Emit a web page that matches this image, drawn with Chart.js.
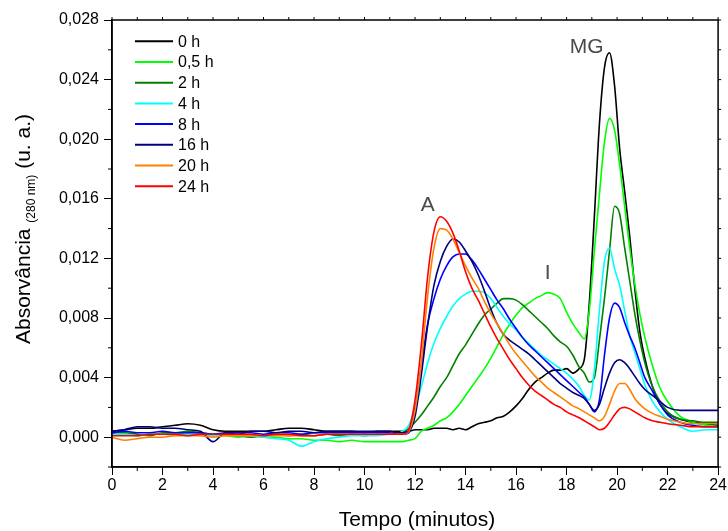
<!DOCTYPE html>
<html><head><meta charset="utf-8">
<script src="https://cdn.jsdelivr.net/npm/chart.js@4.4.0/dist/chart.umd.min.js"></script>
<style>html,body{margin:0;padding:0;background:#fff;}#wrap{width:728px;height:531px;}</style>
</head><body><div id="wrap"><canvas id="c" width="728" height="531"></canvas></div>
<script>
const times = [0,0.5,1,1.5,2,2.5,3,3.5,4,4.5,5,5.5,6,6.5,7,7.5,8,8.5,9,9.5,10,10.5,11,
 11.25,11.5,11.75,12,12.25,12.5,12.75,13,13.25,13.5,13.75,14,14.25,14.5,14.75,15,15.25,15.5,15.75,16,16.25,16.5,16.75,17,17.25,17.5,17.75,18,18.25,18.5,
 18.7,18.9,19.1,19.3,19.5,19.7,19.9,20.1,20.3,20.5,20.7,20.9,21.1,
 21.4,21.7,22,22.5,23,23.5,24];

const seriesLabels = ['0 h','0,5 h','2 h','4 h','8 h','16 h','20 h','24 h'];

const s0h = [0.0004,0.0005,0.0006,0.0006,0.0007,0.0008,0.0009,0.0008,0.0005,0.0004,0.0004,0.0004,0.0004,0.0005,0.0006,0.0006,0.0005,0.0004,0.0004,0.0004,0.0003,0.0004,0.0004,
 0.0004,0.0004,0.0004,0.0005,0.0005,0.0005,0.0006,0.0006,0.0006,0.0005, 0.0006,0.0005,0.0007,0.0009,0.0010,0.0011,0.0013,0.0014,0.0017,0.0021, 0.0026,0.0032,0.0037,0.0040,0.0043,0.0045,0.0045,0.0046,0.0043,0.0046,
 0.0052,0.0090,0.0148,0.0210,0.0248,0.0258,0.0236,0.0194,0.0165,0.0135,0.0100,0.0071,0.0053,
 0.0034,0.0022,0.0016,0.0012,0.0010,0.0009,0.0008];
const s05h = [0.0002,0.0002,0.0001,0.0002,0.0002,0.0003,0.0002,0.0002,0.0001,0.0001,0.0000,0.0001,0.0000,0.0000,-0.0001,-0.0001,-0.0002,-0.0002,-0.0003,-0.0002,-0.0003,-0.0003,-0.0003,
 -0.0003,-0.0003,-0.0002,-0.0001,0.0004,0.0006,0.0008,0.0011,0.0013,0.0017, 0.0022,0.0028,0.0034,0.0040,0.0046,0.0053,0.0061,0.0069,0.0076,0.0082, 0.0087,0.0090,0.0093,0.0095,0.0097,0.0096,0.0093,0.0084,0.0076,0.0070,
 0.0066,0.0085,0.0125,0.0163,0.0198,0.0214,0.0206,0.0183,0.0155,0.0127,0.0103,0.0083,0.0067,
 0.0048,0.0033,0.0024,0.0014,0.0010,0.0008,0.0007];
const s2h = [0.0003,0.0003,0.0002,0.0001,0.0003,0.0003,0.0004,0.0003,0.0002,0.0002,0.0001,0.0000,0.0001,0.0002,0.0001,0.0002,0.0001,0.0002,0.0001,0.0002,0.0001,0.0002,0.0002,
 0.0002,0.0003,0.0006,0.0010,0.0015,0.0021,0.0027,0.0034,0.0040,0.0048, 0.0056,0.0062,0.0069,0.0076,0.0082,0.0086,0.0090,0.0093,0.0093,0.0092, 0.0089,0.0085,0.0081,0.0077,0.0073,0.0068,0.0064,0.0061,0.0055,0.0047,
 0.0043,0.0037,0.0040,0.0065,0.0093,0.0125,0.0155,0.0150,0.0127,0.0105,0.0083,0.0065,0.0050,
 0.0034,0.0024,0.0017,0.0012,0.0011,0.0010,0.0010];
const s4h = [0.0002,0.0002,0.0001,0.0002,0.0002,0.0001,0.0002,0.0001,0.0001,0.0002,0.0001,0.0001,0.0000,-0.0001,-0.0002,-0.0006,-0.0003,-0.0001,0.0000,0.0001,0.0001,0.0001,0.0002,
 0.0002,0.0004,0.0008,0.0020,0.0034,0.0050,0.0063,0.0073,0.0081,0.0088, 0.0093,0.0096,0.0098,0.0098,0.0097,0.0093,0.0087,0.0081,0.0076,0.0072, 0.0067,0.0063,0.0059,0.0055,0.0052,0.0049,0.0046,0.0043,0.0039,0.0034,
 0.0028,0.0025,0.0045,0.0085,0.0118,0.0127,0.0113,0.0102,0.0085,0.0068,0.0057,0.0046,0.0035,
 0.0024,0.0017,0.0012,0.0007,0.0004,0.0005,0.0005];
const s8h = [0.0003,0.0004,0.0003,0.0003,0.0004,0.0003,0.0003,0.0003,0.0002,0.0003,0.0003,0.0003,0.0002,0.0003,0.0003,0.0002,0.0003,0.0003,0.0003,0.0003,0.0003,0.0003,0.0003,
 0.0002,0.0002,0.0003,0.0018,0.0048,0.0076,0.0093,0.0106,0.0115,0.0121, 0.0123,0.0123,0.0119,0.0113,0.0106,0.0099,0.0092,0.0086,0.0079,0.0073, 0.0067,0.0062,0.0058,0.0054,0.0050,0.0046,0.0042,0.0038,0.0034,0.0030,
 0.0027,0.0022,0.0017,0.0025,0.0055,0.0080,0.0090,0.0087,0.0077,0.0068,0.0060,0.0050,0.0040,
 0.0031,0.0022,0.0015,0.0010,0.0008,0.0007,0.0007];
const s16h = [0.0004,0.0005,0.0007,0.0007,0.0006,0.0006,0.0005,0.0004,-0.0003,0.0003,0.0002,0.0004,0.0004,0.0003,0.0004,0.0004,0.0003,0.0004,0.0004,0.0004,0.0004,0.0004,0.0004,
 0.0003,0.0003,0.0004,0.0014,0.0042,0.0075,0.0102,0.0118,0.0128,0.0133, 0.0131,0.0125,0.0118,0.0109,0.0098,0.0086,0.0076,0.0069,0.0065,0.0062, 0.0059,0.0056,0.0052,0.0048,0.0044,0.0040,0.0036,0.0033,0.0030,0.0028,
 0.0026,0.0022,0.0018,0.0022,0.0033,0.0043,0.0050,0.0052,0.0050,0.0046,0.0041,0.0036,0.0032,
 0.0028,0.0024,0.0020,0.0018,0.0018,0.0018,0.0018];
const s20h = [0.0000,-0.0002,-0.0001,0.0000,0.0000,0.0001,0.0001,0.0001,0.0000,0.0001,0.0001,0.0001,0.0001,0.0001,0.0001,0.0001,0.0001,0.0002,0.0002,0.0002,0.0002,0.0002,0.0002,
 0.0002,0.0002,0.0004,0.0018,0.0050,0.0095,0.0127,0.0140,0.0139,0.0133, 0.0124,0.0115,0.0107,0.0100,0.0091,0.0083,0.0076,0.0069,0.0062,0.0056, 0.0051,0.0046,0.0041,0.0037,0.0033,0.0030,0.0027,0.0024,0.0021,0.0019,
 0.0017,0.0015,0.0013,0.0011,0.0014,0.0022,0.0031,0.0036,0.0036,0.0032,0.0026,0.0022,0.0019,
 0.0016,0.0014,0.0012,0.0010,0.0009,0.0009,0.0009];
const s24h = [0.0001,0.0001,0.0001,0.0002,0.0002,0.0002,0.0001,0.0002,0.0002,0.0002,0.0002,0.0002,0.0001,0.0002,0.0002,0.0001,0.0001,0.0002,0.0002,0.0002,0.0002,0.0002,0.0002,
 0.0002,0.0002,0.0005,0.0025,0.0062,0.0108,0.0138,0.0148,0.0145,0.0137, 0.0125,0.0111,0.0100,0.0092,0.0083,0.0074,0.0066,0.0059,0.0052,0.0046, 0.0040,0.0035,0.0031,0.0028,0.0025,0.0022,0.0020,0.0017,0.0015,0.0013,
 0.0011,0.0009,0.0007,0.0005,0.0006,0.0010,0.0015,0.0019,0.0020,0.0019,0.0017,0.0015,0.0013,
 0.0011,0.0010,0.0009,0.0008,0.0007,0.0007,0.0007];

const xTicks = [0,2,4,6,8,10,12,14,16,18,20,22,24];
const xMinorTicks = [1,3,5,7,9,11,13,15,17,19,21,23];
const yTicks = [0,0.004,0.008,0.012,0.016,0.020,0.024,0.028];
const yMinorTicks = [-0.002,0.002,0.006,0.010,0.014,0.018,0.022,0.026];
const annotations = [['A',12.5,0.0156],['I',17.25,0.0110],['MG',18.8,0.0262]];

const allSeries = [s0h,s05h,s2h,s4h,s8h,s16h,s20h,s24h];
const colors = ['#000000','#00ff00','#008000','#00ffff','#0000ff','#000080','#ff8000','#ff0000'];
const FONT = '"Liberation Sans", Arial, sans-serif';

const datasets = allSeries.map((arr,i)=>({
  label: seriesLabels[i],
  data: times.map((t,k)=>({x:t,y:arr[k]})),
  borderColor: colors[i],
  backgroundColor: colors[i],
  borderWidth: 1.6,
  pointRadius: 0,
  cubicInterpolationMode: 'monotone',
  order: allSeries.length - i
}));

const deco = {
  id:'deco',
  afterDraw(chart){
    const {ctx, chartArea:a, scales:{x,y}} = chart;
    ctx.save();
    ctx.strokeStyle = '#000';
    ctx.lineWidth = 1.5;
    ctx.strokeRect(a.left, a.top, a.right-a.left, a.bottom-a.top);
    ctx.lineWidth = 1;
    ctx.beginPath();
    for (const v of xMinorTicks){ const p=x.getPixelForValue(v); ctx.moveTo(p,a.bottom); ctx.lineTo(p,a.bottom+4); }
    for (const v of xTicks.concat(xMinorTicks)){ const p=x.getPixelForValue(v); ctx.moveTo(p,a.top); ctx.lineTo(p,a.top-3); }
    for (const v of yMinorTicks){ const p=y.getPixelForValue(v); ctx.moveTo(a.left,p); ctx.lineTo(a.left-4,p); }
    for (const v of yTicks.concat(yMinorTicks)){ const p=y.getPixelForValue(v); ctx.moveTo(a.right,p); ctx.lineTo(a.right+3,p); }
    ctx.stroke();

    // legend
    ctx.font = '16px ' + FONT;
    ctx.textBaseline = 'middle';
    ctx.textAlign = 'left';
    seriesLabels.forEach((lab,i)=>{
      const cy = 42.3 + i*20.7;
      ctx.strokeStyle = colors[i];
      ctx.lineWidth = 2;
      ctx.beginPath(); ctx.moveTo(135, cy-1); ctx.lineTo(173, cy-1); ctx.stroke();
      ctx.fillStyle = '#000';
      ctx.fillText(lab, 178, cy);
    });

    // peak annotations
    ctx.font = '21px ' + FONT;
    ctx.fillStyle = '#4a4a4a';
    ctx.textAlign = 'center';
    for (const [t,xv,yv] of annotations){
      ctx.fillText(t, x.getPixelForValue(xv), y.getPixelForValue(yv));
    }

    // x title
    ctx.fillStyle = '#000';
    ctx.font = '21px ' + FONT;
    ctx.fillText('Tempo (minutos)', 417, 520);

    // y title with subscript
    ctx.save();
    ctx.translate(22, 229);
    ctx.rotate(-Math.PI/2);
    const big = '21px ' + FONT, small = '12px ' + FONT;
    const p1 = 'Absorvância ', p2 = '(280 nm)', p3 = ' (u. a.)';
    ctx.font = big; const w1 = ctx.measureText(p1).width, w3 = ctx.measureText(p3).width;
    ctx.font = small; const w2 = ctx.measureText(p2).width;
    let sx = -(w1+w2+w3)/2;
    ctx.textAlign = 'left';
    ctx.textBaseline = 'alphabetic';
    ctx.font = big; ctx.fillText(p1, sx, 8);
    ctx.font = small; ctx.fillText(p2, sx+w1, 13);
    ctx.font = big; ctx.fillText(p3, sx+w1+w2, 8);
    ctx.restore();
    ctx.restore();
  }
};

new Chart(document.getElementById('c'), {
  type:'line',
  data:{datasets},
  options:{
    responsive:false,
    animation:false,
    devicePixelRatio:1,
    layout:{padding:{top:20,right:8,left:0,bottom:0}},
    plugins:{legend:{display:false},tooltip:{enabled:false}},
    scales:{
      x:{type:'linear',min:0,max:24,
        afterBuildTicks:s=>{s.ticks=xTicks.map(v=>({value:v}));},
        afterFit:s=>{s.height=64;},
        ticks:{font:{family:FONT,size:16},color:'#000',maxRotation:0,autoSkip:false,padding:1,callback:v=>String(v)},
        grid:{drawOnChartArea:false,drawTicks:true,tickLength:8,color:'#000',lineWidth:1},
        border:{display:true,color:'#000',width:1.5}},
      y:{type:'linear',min:-0.002,max:0.028,
        afterBuildTicks:s=>{s.ticks=yTicks.map(v=>({value:v}));},
        afterFit:s=>{s.width=112;},
        ticks:{font:{family:FONT,size:16},color:'#000',padding:5,callback:v=>v.toFixed(3).replace('.',',')},
        grid:{drawOnChartArea:false,drawTicks:true,tickLength:8,color:'#000',lineWidth:1},
        border:{display:true,color:'#000',width:1.5}}
    }
  },
  plugins:[deco]
});
</script></body></html>
